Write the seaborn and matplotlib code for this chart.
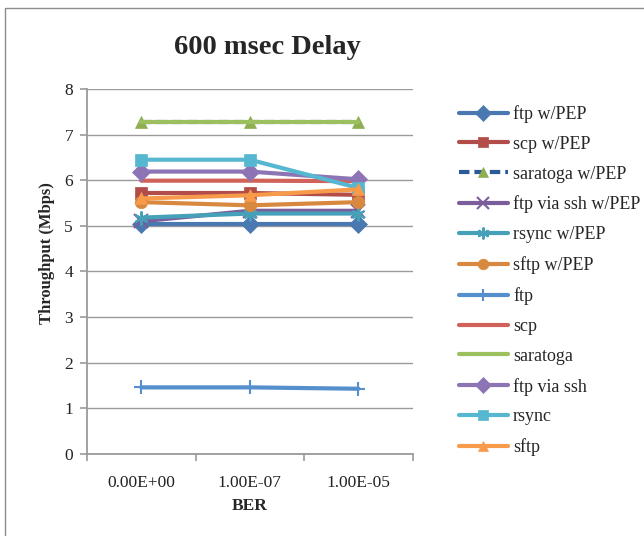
import matplotlib
matplotlib.use("Agg")
import matplotlib.pyplot as plt
import matplotlib.patches as mpatches
import pandas as pd
import seaborn as sns

sns.set_theme(style="white")
plt.rcParams["font.family"] = ["Liberation Serif", "DejaVu Serif"]

# BER levels on the x axis
ber_labels = ["0.00E+00", "1.00E-07", "1.00E-05"]

# Throughput (Mbps) per transfer method
ftp_pep = [5.05, 5.05, 5.05]
scp_pep = [5.72, 5.72, 5.68]
saratoga_pep = [7.27, 7.27, 7.27]
ftp_ssh_pep = [5.10, 5.33, 5.33]
rsync_pep = [5.18, 5.27, 5.27]
sftp_pep = [5.52, 5.45, 5.52]
ftp = [1.46, 1.46, 1.43]
scp = [5.99, 5.99, 5.98]
saratoga = [7.27, 7.27, 7.27]
ftp_ssh = [6.19, 6.19, 6.02]
rsync = [6.45, 6.45, 5.83]
sftp = [5.60, 5.67, 5.80]

series_names = ["ftp w/PEP", "scp w/PEP", "saratoga w/PEP", "ftp via ssh w/PEP",
                "rsync w/PEP", "sftp w/PEP", "ftp", "scp", "saratoga",
                "ftp via ssh", "rsync", "sftp"]
series_values = [ftp_pep, scp_pep, saratoga_pep, ftp_ssh_pep, rsync_pep, sftp_pep,
                 ftp, scp, saratoga, ftp_ssh, rsync, sftp]

# line colour, marker, marker colour, dashed
styles = {
    "ftp w/PEP":         ("#4a78b0", "D", "#4a78b0", False),
    "scp w/PEP":         ("#b24d4a", "s", "#b24d4a", False),
    "saratoga w/PEP":    ("#2c5a96", "^", "#8fae52", True),
    "ftp via ssh w/PEP": ("#7a5e9c", "x", "#7a5e9c", False),
    "rsync w/PEP":       ("#45a1b8", (6, 2, 0), "#45a1b8", False),
    "sftp w/PEP":        ("#d9893f", "o", "#d9893f", False),
    "ftp":               ("#5590cc", "+", "#5590cc", False),
    "scp":               ("#d0625a", None, "#d0625a", False),
    "saratoga":          ("#9cc05e", None, "#9cc05e", False),
    "ftp via ssh":       ("#8d74b5", "D", "#8d74b5", False),
    "rsync":             ("#55b8d0", "s", "#55b8d0", False),
    "sftp":              ("#f79a4a", "^", "#f79a4a", False),
}

rows = []
for name, vals in zip(series_names, series_values):
    for lab, v in zip(ber_labels, vals):
        rows.append({"BER": lab, "Throughput": v, "Series": name})
df = pd.DataFrame(rows)

fig = plt.figure(figsize=(6.44, 5.36), dpi=100)
ax = fig.add_axes([0.135, 0.153, 0.506, 0.681])

# outer chart frame
fig.patches.append(mpatches.Rectangle((5 / 644, -0.1), 1.2, 1 - 8 / 536 + 0.1,
                                      transform=fig.transFigure, fill=False,
                                      edgecolor="#8c8c8c", linewidth=1.0, zorder=0))

for i, name in enumerate(series_names):
    color, marker, mcolor, dashed = styles[name]
    sub = df[df["Series"] == name]
    thin = marker in ("x", "+", (6, 2, 0))
    sns.lineplot(data=sub, x="BER", y="Throughput", ax=ax, color=color,
                 linewidth=3.0, marker=marker, markersize=10 if thin else 9,
                 markerfacecolor=mcolor, markeredgecolor=mcolor,
                 markeredgewidth=1.5 if thin else 0.5,
                 linestyle=(0, (2.5, 1.2)) if dashed else "-",
                 label=name, zorder=3 + i, sort=False, errorbar=None)

ax.set_xlim(-0.5, 2.5)
ax.set_ylim(0, 8)
ax.set_yticks(range(0, 9))
ax.set_xticks(range(3))
ax.set_xticklabels(ber_labels)
ax.set_xticks([-0.5, 0.5, 1.5, 2.5], minor=True)
ax.grid(axis="y", color="#9a9a9a", linewidth=1.0)
ax.set_axisbelow(True)
for s in ("top", "right"):
    ax.spines[s].set_visible(False)
for s in ("left", "bottom"):
    ax.spines[s].set_color("#9a9a9a")
    ax.spines[s].set_linewidth(1.3)
ax.tick_params(axis="y", which="major", left=True, length=5, width=1.2,
               color="#9a9a9a", labelsize=12.5, pad=5, labelcolor="#222222")
ax.tick_params(axis="x", which="major", bottom=False, labelsize=12.5, pad=9,
               labelcolor="#222222")
ax.tick_params(axis="x", which="minor", bottom=True, length=5, width=1.2,
               color="#9a9a9a")
ax.set_xlabel("BER", fontsize=12.5, fontweight="bold", labelpad=5)
ax.set_ylabel("Throughput (Mbps)", fontsize=12, fontweight="bold")
ax.yaxis.set_label_coords(-0.098, 0.55)

fig.text(0.415, 1 - 48 / 536, "600 msec Delay", ha="center", va="center",
         fontsize=20.5, fontweight="bold")

handles, labels = ax.get_legend_handles_labels()
leg = fig.legend(handles, labels, loc="upper left",
                 bbox_to_anchor=(459 / 644, 1 - 105 / 536),
                 frameon=False, fontsize=13, handlelength=2.7,
                 handletextpad=0.3, labelspacing=0.715, borderpad=0,
                 borderaxespad=0, markerscale=0.85)
if ax.get_legend() is not None:
    ax.get_legend().remove()

fig.savefig("out.png", dpi=100)
